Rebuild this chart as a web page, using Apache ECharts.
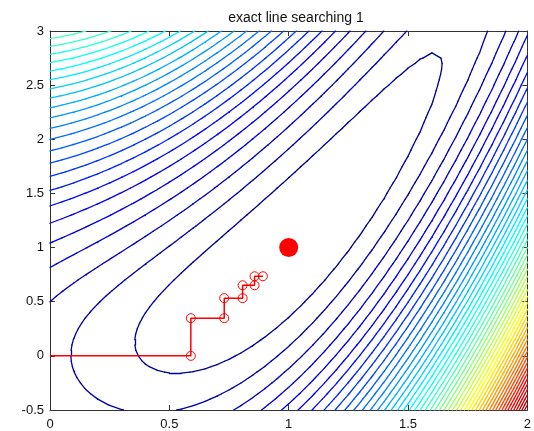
<!DOCTYPE html>
<html>
<head>
<meta charset="utf-8">
<script src="https://cdn.jsdelivr.net/npm/echarts@6/dist/echarts.min.js"></script>
<style>
html, body { margin: 0; padding: 0; background: #fff; }
#chart { width: 534px; height: 431px; }
</style>
</head>
<body>
<div id="chart"></div>
<script>
// search path (exact line search, alternating x / y directions)
const pathX = [0, 0.590, 0.590, 0.730, 0.730, 0.807, 0.807, 0.857, 0.857, 0.892];
const pathY = [0, 0, 0.348, 0.348, 0.533, 0.533, 0.652, 0.652, 0.735, 0.735];
const minPoint = [1, 1];
const xTicks = [0, 0.5, 1, 1.5, 2];
const yTicks = [-0.5, 0, 0.5, 1, 1.5, 2, 2.5, 3];
// contoured surface and its sampling
const xRange = [0, 2];
const yRange = [-0.5, 3];
const gridStep = 0.05;
const levelCount = 50;

function surface(x, y) {
  return (1 - x) * (1 - x) + (y - x * x) * (y - x * x);
}

function jet(t) {
  const c = v => Math.round(255 * Math.max(0, Math.min(1, v)));
  const r = c(1.5 - Math.abs(4 * t - 3));
  const g = c(1.5 - Math.abs(4 * t - 2));
  const b = c(1.5 - Math.abs(4 * t - 1));
  return "rgb(" + r + "," + g + "," + b + ")";
}

// sample grid
const nx = Math.round((xRange[1] - xRange[0]) / gridStep);
const ny = Math.round((yRange[1] - yRange[0]) / gridStep);
const xs = [], ys = [], Z = [];
for (let i = 0; i <= nx; i++) xs.push(xRange[0] + i * gridStep);
for (let j = 0; j <= ny; j++) ys.push(yRange[0] + j * gridStep);
let zmin = Infinity, zmax = -Infinity;
for (let i = 0; i <= nx; i++) {
  Z.push([]);
  for (let j = 0; j <= ny; j++) {
    const v = surface(xs[i], ys[j]);
    Z[i].push(v);
    zmin = Math.min(zmin, v);
    zmax = Math.max(zmax, v);
  }
}
const levels = [];
for (let k = 1; k <= levelCount; k++) levels.push(zmin + k * (zmax - zmin) / (levelCount + 1));

// marching squares -> segments
const segTable = {
  1: [[3, 0]], 2: [[0, 1]], 3: [[3, 1]], 4: [[1, 2]], 5: [[3, 0], [1, 2]],
  6: [[0, 2]], 7: [[3, 2]], 8: [[2, 3]], 9: [[0, 2]], 10: [[0, 1], [2, 3]],
  11: [[1, 2]], 12: [[1, 3]], 13: [[0, 1]], 14: [[3, 0]]
};
const contourData = [];
levels.forEach(function (L) {
  const color = jet((L - zmin) / (zmax - zmin));
  for (let i = 0; i < nx; i++) {
    for (let j = 0; j < ny; j++) {
      const a = Z[i][j], b = Z[i + 1][j], c = Z[i + 1][j + 1], d = Z[i][j + 1];
      const code = (a > L ? 1 : 0) | (b > L ? 2 : 0) | (c > L ? 4 : 0) | (d > L ? 8 : 0);
      if (code === 0 || code === 15) continue;
      const x0 = xs[i], x1 = xs[i + 1], y0 = ys[j], y1 = ys[j + 1];
      const edge = function (e) {
        if (e === 0) return [x0 + (L - a) / (b - a) * (x1 - x0), y0];
        if (e === 1) return [x1, y0 + (L - b) / (c - b) * (y1 - y0)];
        if (e === 2) return [x0 + (L - d) / (c - d) * (x1 - x0), y1];
        return [x0, y0 + (L - a) / (d - a) * (y1 - y0)];
      };
      segTable[code].forEach(function (s) {
        contourData.push({ coords: [edge(s[0]), edge(s[1])], lineStyle: { color: color } });
      });
    }
  }
});

const pathData = pathX.map(function (x, i) {
  return i === 0 ? { value: [x, pathY[i]], symbol: "none" } : [x, pathY[i]];
});

const axisText = { color: "#111", fontSize: 13, fontFamily: "Liberation Sans, Arial, sans-serif" };
const tickFmt = v => String(v);
const frame = { show: true, onZero: false, lineStyle: { color: "#333" } };
const inTick = { inside: true, length: 5, lineStyle: { color: "#333" } };

const myChart = echarts.init(document.getElementById("chart"), null, { renderer: "canvas" });
myChart.setOption({
  animation: false,
  title: {
    text: "exact line searching 1",
    left: 291,
    textAlign: "center",
    top: 6,
    textStyle: { fontSize: 14, fontWeight: "normal", color: "#111", fontFamily: "Liberation Sans, Arial, sans-serif" }
  },
  grid: { left: 50, right: 2, top: 31, bottom: 20 },
  xAxis: [
    {
      type: "value", min: xTicks[0], max: xTicks[xTicks.length - 1], interval: 0.5,
      axisLine: frame, axisTick: inTick,
      axisLabel: Object.assign({ margin: 8, formatter: tickFmt }, axisText),
      splitLine: { show: false }
    },
    {
      type: "value", position: "top", min: xTicks[0], max: xTicks[xTicks.length - 1], interval: 0.5,
      axisLine: frame, axisTick: inTick,
      axisLabel: { show: false }, splitLine: { show: false }
    }
  ],
  yAxis: [
    {
      type: "value", min: yTicks[0], max: yTicks[yTicks.length - 1], interval: 0.5,
      axisLine: frame, axisTick: inTick,
      axisLabel: Object.assign({ margin: 6, formatter: tickFmt }, axisText),
      splitLine: { show: false }
    },
    {
      type: "value", position: "right", min: yTicks[0], max: yTicks[yTicks.length - 1], interval: 0.5,
      axisLine: frame, axisTick: inTick,
      axisLabel: { show: false }, splitLine: { show: false }
    }
  ],
  series: [
    {
      type: "lines",
      coordinateSystem: "cartesian2d",
      polyline: false,
      silent: true,
      lineStyle: { width: 1.3, opacity: 1, cap: "round" },
      data: contourData,
      z: 1
    },
    {
      type: "line",
      data: pathData,
      symbol: "circle",
      symbolSize: 9,
      showAllSymbol: true,
      lineStyle: { color: "#ff0000", width: 1.5 },
      itemStyle: { color: "transparent", borderColor: "#ff0000", borderWidth: 1 },
      z: 3
    },
    {
      type: "scatter",
      data: [minPoint],
      symbolSize: 19,
      itemStyle: { color: "#ff0000", opacity: 1 },
      z: 4
    }
  ]
});
window.addEventListener("resize", function () {
  myChart.resize();
});
</script>
</body>
</html>
